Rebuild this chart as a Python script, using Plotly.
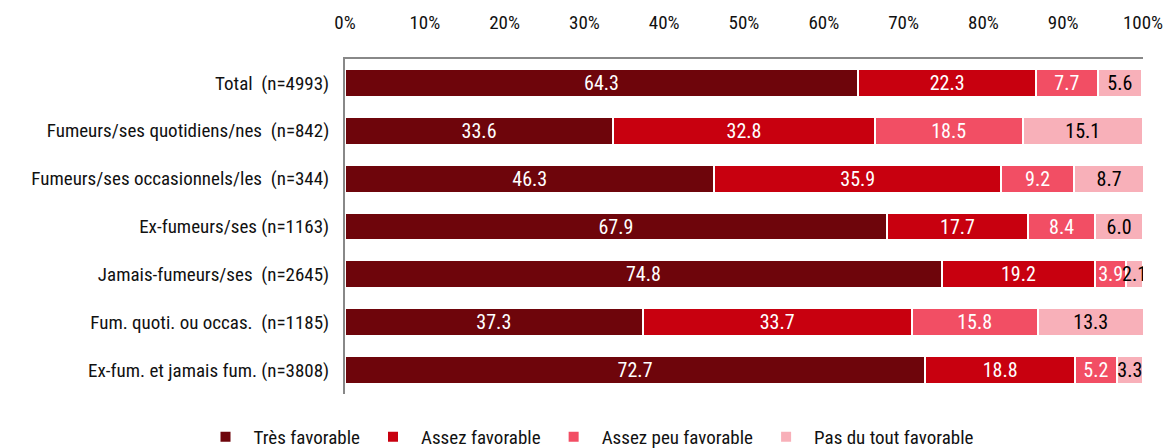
import plotly.graph_objects as go

categories = ["Total  (n=4993)", "Fumeurs/ses quotidiens/nes  (n=842)",
              "Fumeurs/ses occasionnels/les  (n=344)", "Ex-fumeurs/ses (n=1163)",
              "Jamais-fumeurs/ses  (n=2645)", "Fum. quoti. ou occas.  (n=1185)",
              "Ex-fum. et jamais fum. (n=3808)"]
tres_fav = [64.3, 33.6, 46.3, 67.9, 74.8, 37.3, 72.7]
assez_fav = [22.3, 32.8, 35.9, 17.7, 19.2, 33.7, 18.8]
assez_peu = [7.7, 18.5, 9.2, 8.4, 3.9, 15.8, 5.2]
pas_du_tout = [5.6, 15.1, 8.7, 6.0, 2.1, 13.3, 3.3]
series_names = ["Très favorable", "Assez favorable", "Assez peu favorable", "Pas du tout favorable"]
tick_vals = [0, 10, 20, 30, 40, 50, 60, 70, 80, 90, 100]
tick_text = [f"{v}%" for v in tick_vals]

FONT = "Liberation Sans Narrow, Arial Narrow, Roboto Condensed, sans-serif"
colors = ["#6E050B", "#C8000F", "#F24E64", "#F8B0B9"]
text_colors = ["white", "white", "white", "black"]

fig = go.Figure()
for name, vals, c, tc in zip(series_names, [tres_fav, assez_fav, assez_peu, pas_du_tout], colors, text_colors):
    fig.add_trace(go.Bar(
        y=categories, x=vals, name=name, orientation="h",
        marker=dict(color=c, line=dict(color="white", width=2)),
        text=[f"{v:.1f}" for v in vals], textposition="inside", textangle=0,
        insidetextanchor="middle", constraintext="none",
        textfont=dict(color=tc, size=20, family=FONT),
    ))

fig.update_layout(
    barmode="stack", bargap=0.42,
    width=1170, height=448,
    margin=dict(l=345, r=27, t=59, b=54),
    plot_bgcolor="white", paper_bgcolor="white",
    font=dict(family=FONT, size=19, color="#222"),
    uniformtext=dict(mode="show", minsize=20),
    legend=dict(orientation="h", x=0.503, xref="container", xanchor="center",
                y=0.025, yref="container", yanchor="middle",
                font=dict(size=19, family=FONT, color="#111"), traceorder="normal",
                itemwidth=46),
    xaxis=dict(side="top", range=[0, 100], tickvals=tick_vals, ticktext=tick_text,
               showgrid=False, zeroline=False, showline=True, linecolor="#888888",
               linewidth=2, ticks="", ticklabelstandoff=20, fixedrange=True,
               automargin=False, tickfont=dict(size=19, color="#111")),
    yaxis=dict(autorange="reversed", showgrid=False, showline=True, linecolor="#888888",
               linewidth=2, ticks="", ticklabelstandoff=10, fixedrange=True,
               automargin=False, tickfont=dict(size=19, color="#111")),
)

fig.write_html("out.html", config={"displayModeBar": False},
               post_script="document.body.style.margin='0';document.body.style.overflow='hidden';")
